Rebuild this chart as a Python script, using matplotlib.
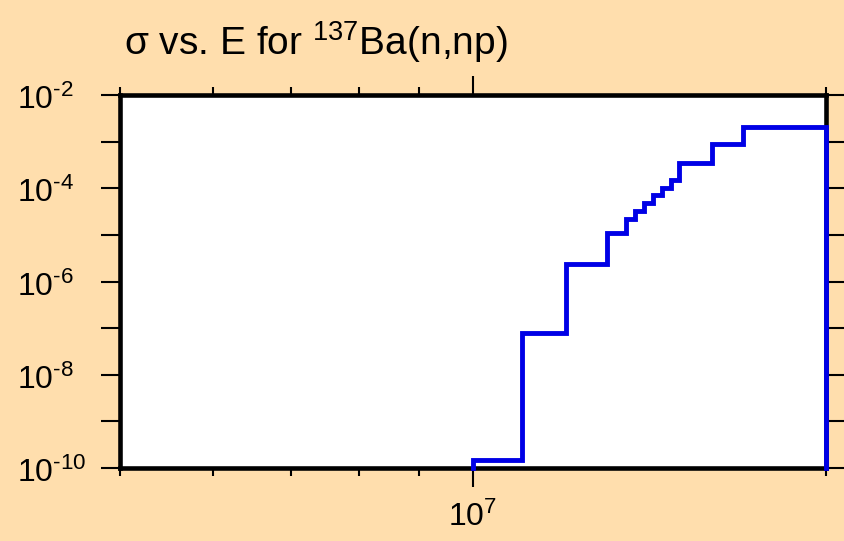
import matplotlib
matplotlib.use('Agg')
import matplotlib.pyplot as plt
import matplotlib.transforms as mtransforms

plt.rcParams['font.family'] = ['Liberation Sans', 'DejaVu Sans']
plt.rcParams['mathtext.fontset'] = 'custom'
plt.rcParams['mathtext.rm'] = 'Liberation Sans'
plt.rcParams['mathtext.it'] = 'Liberation Sans'
plt.rcParams['mathtext.default'] = 'regular'

# Energias de los escalones (eV) y seccion eficaz (b)
energy_edges = [1.0e7, 1.10e7, 1.20e7, 1.30e7, 1.35e7, 1.375e7, 1.40e7,
                1.425e7, 1.45e7, 1.475e7, 1.50e7, 1.60e7, 1.70e7, 2.0e7]
sigma_vals = [1.5e-10, 8.0e-8, 2.35e-6, 1.09e-5, 2.2e-5, 3.3e-5, 4.8e-5,
              7.1e-5, 9.9e-5, 1.54e-4, 3.5e-4, 8.7e-4, 2.1e-3]
y_floor = 1e-10

x_ticks = [5e6, 6e6, 7e6, 8e6, 9e6, 1e7, 2e7]
y_ticks = [1e-10, 1e-9, 1e-8, 1e-7, 1e-6, 1e-5, 1e-4, 1e-3, 1e-2]
y_labels = {1e-10: '-10', 1e-8: '-8', 1e-6: '-6', 1e-4: '-4', 1e-2: '-2'}

bg = '#ffdead'
W, H = 845, 541
fig = plt.figure(figsize=(W / 100, H / 100), dpi=100, facecolor=bg)
ax = fig.add_axes([120 / W, 1 - 468 / H, (826 - 120) / W, (468 - 95) / H])
ax.set_facecolor('white')

# curva escalonada
xs = [energy_edges[0]] + energy_edges + [energy_edges[-1]]
ys = [y_floor] + sigma_vals + [sigma_vals[-1], y_floor]
ax.plot(xs, ys, drawstyle='steps-post', color='#0000e6', lw=3.5,
        clip_on=False, zorder=5, solid_joinstyle='miter')

ax.set_xscale('log')
ax.set_yscale('log')
ax.set_xlim(5e6, 2e7)
ax.set_ylim(1e-10, 1e-2)

for s in ax.spines.values():
    s.set_linewidth(3.3)

ax.set_xticks([1e7])
ax.set_xticks([t for t in x_ticks if t != 1e7], minor=True)
ax.set_yticks(y_ticks)
ax.set_yticks([], minor=True)
ax.set_xticklabels([])
ax.set_xticklabels([], minor=True)
ax.set_yticklabels([])
ax.tick_params(axis='x', which='major', direction='out', length=14, width=1.5,
               top=True, bottom=True)
ax.tick_params(axis='x', which='minor', direction='out', length=6, width=1.5,
               top=True, bottom=True)
ax.tick_params(axis='y', which='major', direction='out', length=14, width=1.5,
               left=True, right=True)

# etiquetas del eje y
ytr = mtransforms.blended_transform_factory(fig.transFigure, ax.transData)
ytr = mtransforms.offset_copy(ytr, fig=fig, x=0, y=-14, units='dots')
for val, exp in y_labels.items():
    fig.text(17 / W, val, r'$10^{\text{' + exp + '}}$', transform=ytr,
             ha='left', va='baseline', fontsize=23)

# etiqueta del eje x
xtr = mtransforms.blended_transform_factory(ax.transData, fig.transFigure)
fig.text(1e7, 1 - 526 / H, r'$10^{7}$', transform=xtr, ha='center',
         va='baseline', fontsize=23)

fig.text(124 / W, 1 - 55 / H, r'σ vs. E for $^{137}$Ba(n,np)', ha='left',
         va='baseline', fontsize=28)

fig.savefig('out.png', dpi=100, facecolor=bg)
